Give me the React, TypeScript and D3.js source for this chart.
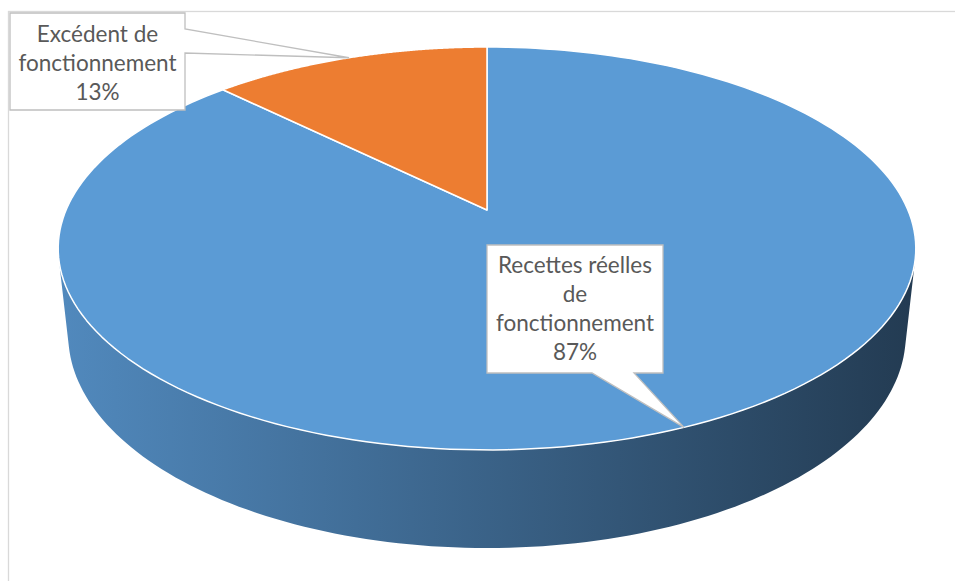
import React from "react";
import * as d3 from "d3";

const categories = ["Recettes réelles de fonctionnement", "Excédent de fonctionnement"];
const values = [87.4, 12.6];
const colors = ["#5b9bd5", "#ed7d31"];
const sideColorsLeft = ["#5189bd", "#c86a2a"];
const sideColorsRight = ["#233b52", "#6b3813"];
const labelLines = [["Recettes réelles", "de", "fonctionnement"], ["Excédent de", "fonctionnement"]];

const W = 955;
const H = 581;

// perspective parameters
const CX = 487;
const CY = 210;
const F = 1956;
const D = 4.647;
const SIN = 0.4611;
const COS = 0.8874;
const HEIGHT = 0.2335;

function proj(a: number, r: number, z: number): [number, number] {
  const X = r * Math.sin(a);
  const Y = r * Math.cos(a);
  const depth = D + Y * COS - z * SIN;
  const up = Y * SIN + z * COS;
  return [CX + (F * X) / depth, CY - (F * up) / depth];
}

const line = d3.line<[number, number]>().x((d) => d[0]).y((d) => d[1]);

export default function App() {
  const pie = d3.pie<number>().sort(null).startAngle(0).endAngle(2 * Math.PI);
  const arcs = pie(values);
  const total = d3.sum(values);

  // visible range of side wall: cos(a) < -1/(D*COS)
  const lim = Math.acos(-1 / (D * COS));
  const visLo = lim;
  const visHi = 2 * Math.PI - lim;

  const sides = arcs.map((a, i) => {
    const lo = Math.max(a.startAngle, visLo);
    const hi = Math.min(a.endAngle, visHi);
    if (hi <= lo) return null;
    const n = 120;
    const pts: [number, number][] = [];
    for (let k = 0; k <= n; k++) pts.push(proj(lo + ((hi - lo) * k) / n, 1, 0));
    for (let k = n; k >= 0; k--) pts.push(proj(lo + ((hi - lo) * k) / n, 1, -HEIGHT));
    return { i, d: line(pts) + "Z" };
  });

  const tops = arcs.map((a, i) => {
    const n = 200;
    const pts: [number, number][] = [proj(0, 0, 0)];
    for (let k = 0; k <= n; k++) pts.push(proj(a.startAngle + ((a.endAngle - a.startAngle) * k) / n, 1, 0));
    return { i, d: line(pts) + "Z" };
  });

  const mid = arcs.map((a) => (a.startAngle + a.endAngle) / 2);
  const tipBlue = proj(mid[0], 1, 0);
  const tipOrange = proj(mid[1], 1, 0);

  // callout boxes (layout)
  const b1 = { x0: 10, y0: 13, x1: 185, y1: 110, pa: 29, pb: 53 };
  const b2 = { x0: 487, y0: 245, x1: 663, y1: 373, pa: 634, pb: 592 };

  const path1 = `M${b1.x0},${b1.y0}H${b1.x1}V${b1.pa}L${tipOrange[0]},${tipOrange[1]}L${b1.x1},${b1.pb}V${b1.y1}H${b1.x0}Z`;
  const path2 = `M${b2.x0},${b2.y0}H${b2.x1}V${b2.y1}H${b2.pa}L${tipBlue[0]},${tipBlue[1]}L${b2.pb},${b2.y1}H${b2.x0}Z`;

  const pct = values.map((v) => `${Math.round((v / total) * 100)}%`);

  const textStyle: React.CSSProperties = {
    fontFamily: "Lato, 'Open Sans', sans-serif",
    fontSize: "22.5px",
    fill: "#595959",
  };

  const lines2 = [...labelLines[0], pct[0]];
  const lines1 = [...labelLines[1], pct[1]];

  return (
    <svg
      width={W}
      height={H}
      style={{ position: "absolute", left: 0, top: 0, background: "#fff" }}
    >
      <defs>
        {arcs.map((_, i) => (
          <linearGradient
            key={i}
            id={`side${i}`}
            gradientUnits="userSpaceOnUse"
            x1={60}
            y1={0}
            x2={915}
            y2={0}
          >
            <stop offset="0" stopColor={sideColorsLeft[i]} />
            <stop offset="1" stopColor={sideColorsRight[i]} />
          </linearGradient>
        ))}
      </defs>
      <rect x={8.5} y={11.5} width={1000} height={1000} fill="#fff" stroke="#d9d9d9" strokeWidth={1.3} />
      {sides.map((s) =>
        s ? <path key={`s${s.i}`} d={s.d} fill={`url(#side${s.i})`} stroke="none" /> : null
      )}
      {tops.map((t) => (
        <path
          key={`t${t.i}`}
          d={t.d}
          fill={colors[t.i]}
          stroke="#ffffff"
          strokeWidth={1.5}
          strokeLinejoin="round"
        >
          <title>{categories[t.i]}</title>
        </path>
      ))}
      <path d={path1} fill="#fff" stroke="#bfbfbf" strokeWidth={1.3} />
      <path d={path2} fill="#fff" stroke="#bfbfbf" strokeWidth={1.3} />
      {lines1.map((l, k) => (
        <text key={`l1${k}`} x={(b1.x0 + b1.x1) / 2} y={42 + k * 29} textAnchor="middle" style={textStyle}>
          {l}
        </text>
      ))}
      {lines2.map((l, k) => (
        <text key={`l2${k}`} x={(b2.x0 + b2.x1) / 2} y={273 + k * 29} textAnchor="middle" style={textStyle}>
          {l}
        </text>
      ))}
    </svg>
  );
}
